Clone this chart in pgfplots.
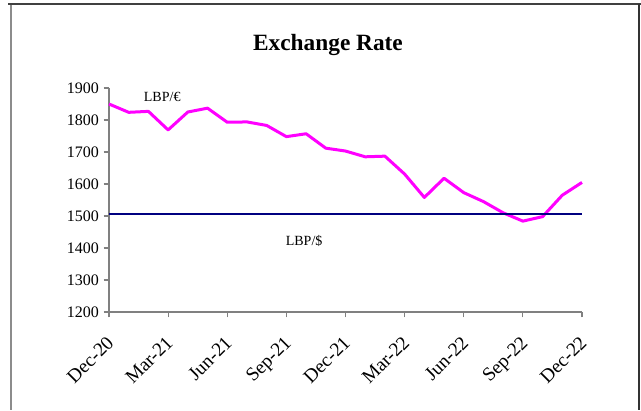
\documentclass[border=0pt]{standalone}
\usepackage{pgfplots}
\pgfplotsset{compat=1.18}
\usepackage{fontspec}
\setmainfont{Liberation Serif}
\definecolor{navyline}{RGB}{0,0,128}
\definecolor{magline}{RGB}{255,0,255}
\begin{document}
\begin{tikzpicture}[x=0.75pt,y=0.75pt]
\useasboundingbox (0,0) rectangle (641,410);
% frame
\draw[line width=1.5pt, black!75] (8,406) -- (641,406);
\draw[line width=1.2pt, black!45] (11,405) -- (11,0);
\draw[line width=1.2pt, black!80] (639,406) -- (639,0);
\node[font=\fontsize{17.5}{20}\selectfont\bfseries] at (328,365) {Exchange Rate};
\begin{axis}[
  at={(81.75pt,73.5pt)}, anchor=origin,
  scale only axis, width=354.75pt, height=168pt,
  xmin=0, xmax=24, ymin=1200, ymax=1900,
  axis x line*=bottom, axis y line*=left,
  axis line style={black!50, line width=0.8pt, -},
  xtick={0,3,...,24},
  xticklabels={Dec-20,Mar-21,Jun-21,Sep-21,Dec-21,Mar-22,Jun-22,Sep-22,Dec-22},
  ytick={1200,1300,...,1900},
  tick style={black!50, line width=0.8pt},
  tick align=outside,
  major tick length=4pt,
  tick label style={font=\fontsize{12}{14}\selectfont},
  xticklabel style={font=\fontsize{14.5}{16}\selectfont, rotate=45, anchor=north east, inner sep=1pt, xshift=-10pt, yshift=-6.5pt},
  yticklabel style={/pgf/number format/1000 sep={}},
  /pgf/number format/assume math mode=true,
  clip=false,
]
\addplot[magline, line width=2.25pt, line join=round] coordinates {
(0,1850) (1,1824) (2,1827) (3,1769) (4,1825) (5,1837) (6,1793) (7,1794) (8,1783)
(9,1748) (10,1757) (11,1712) (12,1703) (13,1685) (14,1687) (15,1631) (16,1558)
(17,1618) (18,1573) (19,1545) (20,1510) (21,1484) (22,1498) (23,1565) (24,1605)
};
\addplot[navyline, line width=1.9pt] coordinates {(0,1506) (24,1506)};
\node[font=\fontsize{10.5}{12}\selectfont] at (axis cs:2.7,1872) {LBP/€};
\node[font=\fontsize{10.5}{12}\selectfont] at (axis cs:9.9,1423) {LBP/\$};
\end{axis}
\end{tikzpicture}
\end{document}
